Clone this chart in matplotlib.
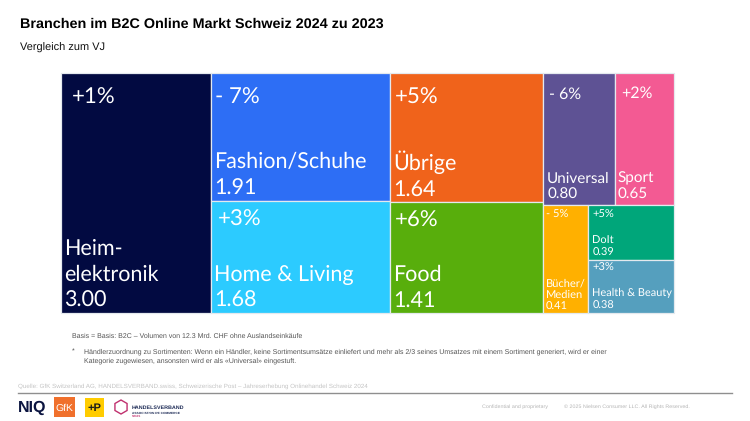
import matplotlib
matplotlib.use("Agg")
import matplotlib.pyplot as plt
from matplotlib.patches import Rectangle, RegularPolygon

W, H = 750, 421
PT = 0.72  # 1 px in points at dpi 100

# data ─────────────────────────────────────────────
categories = ["Heim-\nelektronik", "Fashion/Schuhe", "Home & Living", "Übrige", "Food",
              "Universal", "Sport", "Bücher/\nMedien", "DoIt", "Health & Beauty"]
values = [3.00, 1.91, 1.68, 1.64, 1.41, 0.80, 0.65, 0.41, 0.39, 0.38]
changes = ["+1%", "- 7%", "+3%", "+5%", "+6%", "- 6%", "+2%", "- 5%", "+5%", "+3%"]
colors = ["#020A41", "#2D6EF5", "#2CCBFF", "#F0631B", "#58AE0C",
          "#5E5294", "#F35A93", "#FFB000", "#00A67A", "#559FBE"]

# per cell: change size, name size, change dx, change center dy, name dx, name bottom (px), line spacing
styles = [(16, 15.5, 11, 25, 3, 2.5, 1.37), (16, 15.5, 4, 25, 3, 2.5, 1.37), (16, 15.5, 7, 19, 3, 2.5, 1.37),
          (16, 15.5, 5, 25, 3, 2.5, 1.37), (16, 15.5, 5, 19, 3, 2.5, 1.37),
          (11.5, 11, 6, 21, 4.5, 3.5, 1.26), (11.5, 11, 6, 20, 2.5, 3.5, 1.26),
          (8, 8, 3, 9, 3, 1.5, 1.22), (8, 7.9, 4, 9, 4, 2, 1.33), (8, 7.9, 4, 8, 4, 2, 1.33)]

# treemap layout: columns > rows > cells, sizes come from the values
layout = [[[0]], [[1], [2]], [[3], [4]], [[5, 6], [7, [8, 9]]]]


def weight(item):
    return sum(weight(i) for i in item) if isinstance(item, list) else values[item]


plt.rcParams["font.family"] = ["Liberation Sans", "DejaVu Sans"]
plt.rcParams["text.hinting"] = "none"
fig = plt.figure(figsize=(W / 100, H / 100), dpi=100, facecolor="white")

# treemap ─────────────────────────────────────────────
total = weight(layout)
ax = fig.add_axes([61 / W, 1 - 313 / H, 613 / W, 240 / H])
ax.set_xlim(0, total)
ax.set_ylim(1, 0)
ax.axis("off")


def draw_cell(i, x, y, w, h):
    ax.add_patch(Rectangle((x, y), w, h, fc=colors[i], ec="#E4E9EE", lw=0.9, clip_on=False))
    fs_pct, fs_name, dx_pct, dy_pct, dx_name, dy_name, spacing = styles[i]
    ax.annotate(changes[i], (x, y), xytext=(dx_pct * PT, -dy_pct * PT), textcoords="offset points",
                color="white", fontsize=fs_pct, family="Lato", va="center", ha="left")
    ax.annotate(f"{categories[i]}\n{values[i]:.2f}", (x, y + h), xytext=(dx_name * PT, dy_name * PT),
                textcoords="offset points", color="white", fontsize=fs_name, family="Lato",
                va="bottom", ha="left", linespacing=spacing)


def split(item, x, y, w, h, horizontal):
    if not isinstance(item, list):
        draw_cell(item, x, y, w, h)
        return
    pos = 0.0
    tot = weight(item)
    for sub in item:
        frac = weight(sub) / tot
        if horizontal:
            split(sub, x + pos * w, y, frac * w, h, False)
        else:
            split(sub, x, y + pos * h, w, frac * h, True)
        pos += frac


split(layout, 0, 0, total, 1, True)

# texts ─────────────────────────────────────────────
bg = fig.add_axes([0, 0, 1, 1], zorder=-1)
bg.set_xlim(0, W)
bg.set_ylim(H, 0)
bg.axis("off")

bg.text(20, 24, "Branchen im B2C Online Markt Schweiz 2024 zu 2023", fontsize=10.4, fontweight="bold",
        color="black", va="center")
bg.text(20, 48, "Vergleich zum VJ", fontsize=7.9, color="#111111", va="center")

bg.text(72, 336, "Basis = Basis: B2C – Volumen von 12.3 Mrd. CHF ohne Auslandseinkäufe",
        fontsize=5, color="#555555", va="center")
bg.text(72, 352, "*", fontsize=5, color="#555555", va="center")
bg.text(84, 352, "Händlerzuordnung zu Sortimenten: Wenn ein Händler, keine Sortimentsumsätze einliefert und "
        "mehr als 2/3 seines Umsatzes mit einem Sortiment generiert, wird er einer",
        fontsize=5, color="#555555", va="center")
bg.text(84, 361, "Kategorie zugewiesen, ansonsten wird er als «Universal» eingestuft.",
        fontsize=5, color="#555555", va="center")

bg.text(18, 386, "Quelle: GfK Switzerland AG, HANDELSVERBAND.swiss, Schweizerische Post – "
        "Jahreserhebung Onlinehandel Schweiz 2024", fontsize=4.54, color="#C4C4C4", va="center")
bg.plot([18, 732], [392.5, 392.5], color="#8F8F8F", lw=1)
bg.text(482, 407, "Confidential and proprietary", fontsize=3.9, color="#B5B5B5", va="center")
bg.text(564, 407, "© 2025 Nielsen Consumer LLC. All Rights Reserved.", fontsize=3.9, color="#B5B5B5", va="center")

# logos ─────────────────────────────────────────────
bg.text(18, 408, "NIQ", fontsize=11.5, fontweight="bold", color="#0B1440", va="center")
bg.add_patch(Rectangle((54, 397), 21, 20, fc="#F0702C", ec="none"))
bg.text(64.5, 408, "GfK", fontsize=7.5, color="white", va="center", ha="center")
bg.add_patch(Rectangle((85, 398), 19, 19, fc="#FFCC00", ec="none"))
bg.text(94.5, 408, "+P", fontsize=8, fontweight="bold", color="#1A1A1A", va="center", ha="center")
bg.add_patch(RegularPolygon((121, 407), 6, radius=7, fill=False, ec="#C0306E", lw=1))
bg.text(132, 408, "HANDELSVERBAND", fontsize=3.9, fontweight="bold", color="#1C2A55", va="center")
bg.text(132, 413, "ASSOCIATION DE COMMERCE", fontsize=2.3, fontweight="bold", color="#1C2A55", va="center")
bg.text(132, 416, "SWISS", fontsize=2.1, fontweight="bold", color="#C0306E", va="center")

fig.savefig("out.png", dpi=100)
